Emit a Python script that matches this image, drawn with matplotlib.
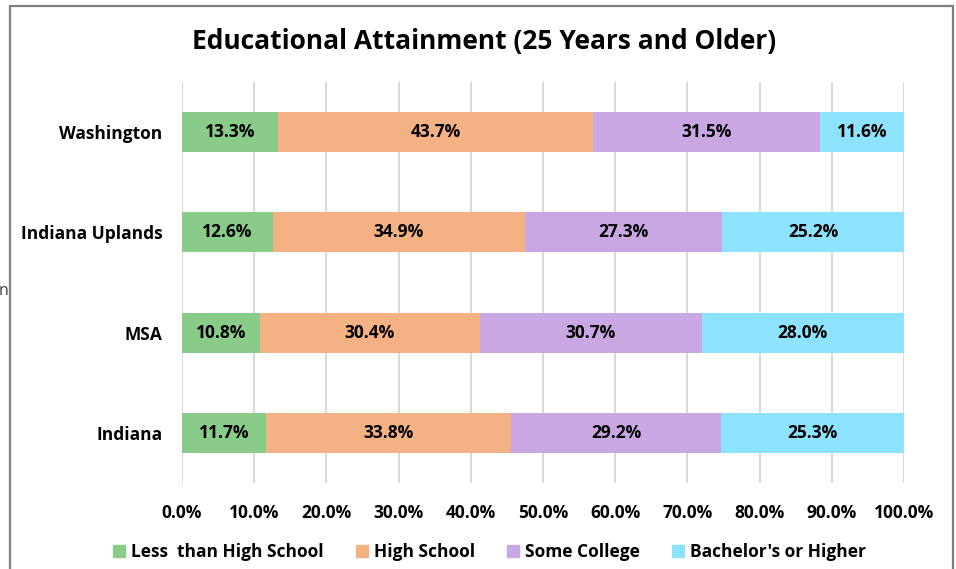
import matplotlib.pyplot as plt
from matplotlib.lines import Line2D
from matplotlib.patches import Rectangle

plt.rcParams['font.family'] = ['Open Sans', 'DejaVu Sans']

# data, top to bottom as in the chart
regions = ["Washington", "Indiana Uplands", "MSA", "Indiana"]
less_hs = [13.3, 12.6, 10.8, 11.7]
high_school = [43.7, 34.9, 30.4, 33.8]
some_college = [31.5, 27.3, 30.7, 29.2]
bachelors = [11.6, 25.2, 28.0, 25.3]
series_names = ["Less  than High School", "High School", "Some College", "Bachelor's or Higher"]
colors = ["#89CB89", "#F4B183", "#C8A7E3", "#8DE3FD"]
xticks = [0, 10, 20, 30, 40, 50, 60, 70, 80, 90, 100]

fig = plt.figure(figsize=(9.56, 5.69), dpi=100)
ax = fig.add_axes([182 / 956, 1 - 483 / 569, (904 - 182) / 956, (483 - 82) / 569])

series = [less_hs, high_school, some_college, bachelors]
totals = [sum(v) for v in zip(*series)]
ypos = list(range(len(regions)))[::-1]
left = [0.0] * len(regions)
for vals, name, col in zip(series, series_names, colors):
    # 100% stacked: widths scaled so every bar ends at 100
    widths = [v / t * 100 for v, t in zip(vals, totals)]
    ax.barh(ypos, widths, left=left, height=0.4, color=col, label=name, zorder=2)
    for y, l, w, v in zip(ypos, left, widths, vals):
        ax.text(l + w / 2, y, f"{v:.1f}%", ha='center', va='center',
                fontsize=12.5, fontweight='bold', color='black', zorder=3)
    left = [l + w for l, w in zip(left, widths)]

ax.set_xlim(0, 100)
ax.set_ylim(-0.5, len(regions) - 0.5)
ax.set_xticks(xticks)
ax.set_xticklabels([f"{t:.1f}%" for t in xticks], fontsize=12.5, fontweight='bold')
ax.set_yticks(ypos)
ax.set_yticklabels(regions, fontsize=12.5, fontweight='bold')
ax.tick_params(axis='both', length=0)
ax.tick_params(axis='x', pad=15)
ax.tick_params(axis='y', pad=14)
ax.grid(axis='x', color='#D9D9D9', linewidth=1.5, zorder=0)
for s in ax.spines.values():
    s.set_visible(False)

fig.text(484 / 956, 1 - 42 / 569, "Educational Attainment (25 Years and Older)",
         ha='center', va='center', fontsize=19, fontweight='bold')

handles = [Line2D([], [], marker='s', linestyle='none', markersize=8,
                  markerfacecolor=c, markeredgecolor=c) for c in colors]
fig.legend(handles, series_names, loc='center', bbox_to_anchor=(489 / 956, 1 - 552 / 569),
           ncol=4, frameon=False, handlelength=0.8, handletextpad=0.3,
           columnspacing=1.8, prop={'weight': 'bold', 'size': 12.5})

# outer chart border and cut-off text on the left
fig.patches.append(Rectangle((10 / 956, -0.05), (953 - 10) / 956, 1.05 - 6 / 569,
                             transform=fig.transFigure, fill=False,
                             edgecolor='#7F7F7F', linewidth=1.6))
fig.text(8 / 956, 1 - 291 / 569, "n", ha='right', va='center', fontsize=11.5, color='#404040')

fig.savefig("out.png", dpi=100)
